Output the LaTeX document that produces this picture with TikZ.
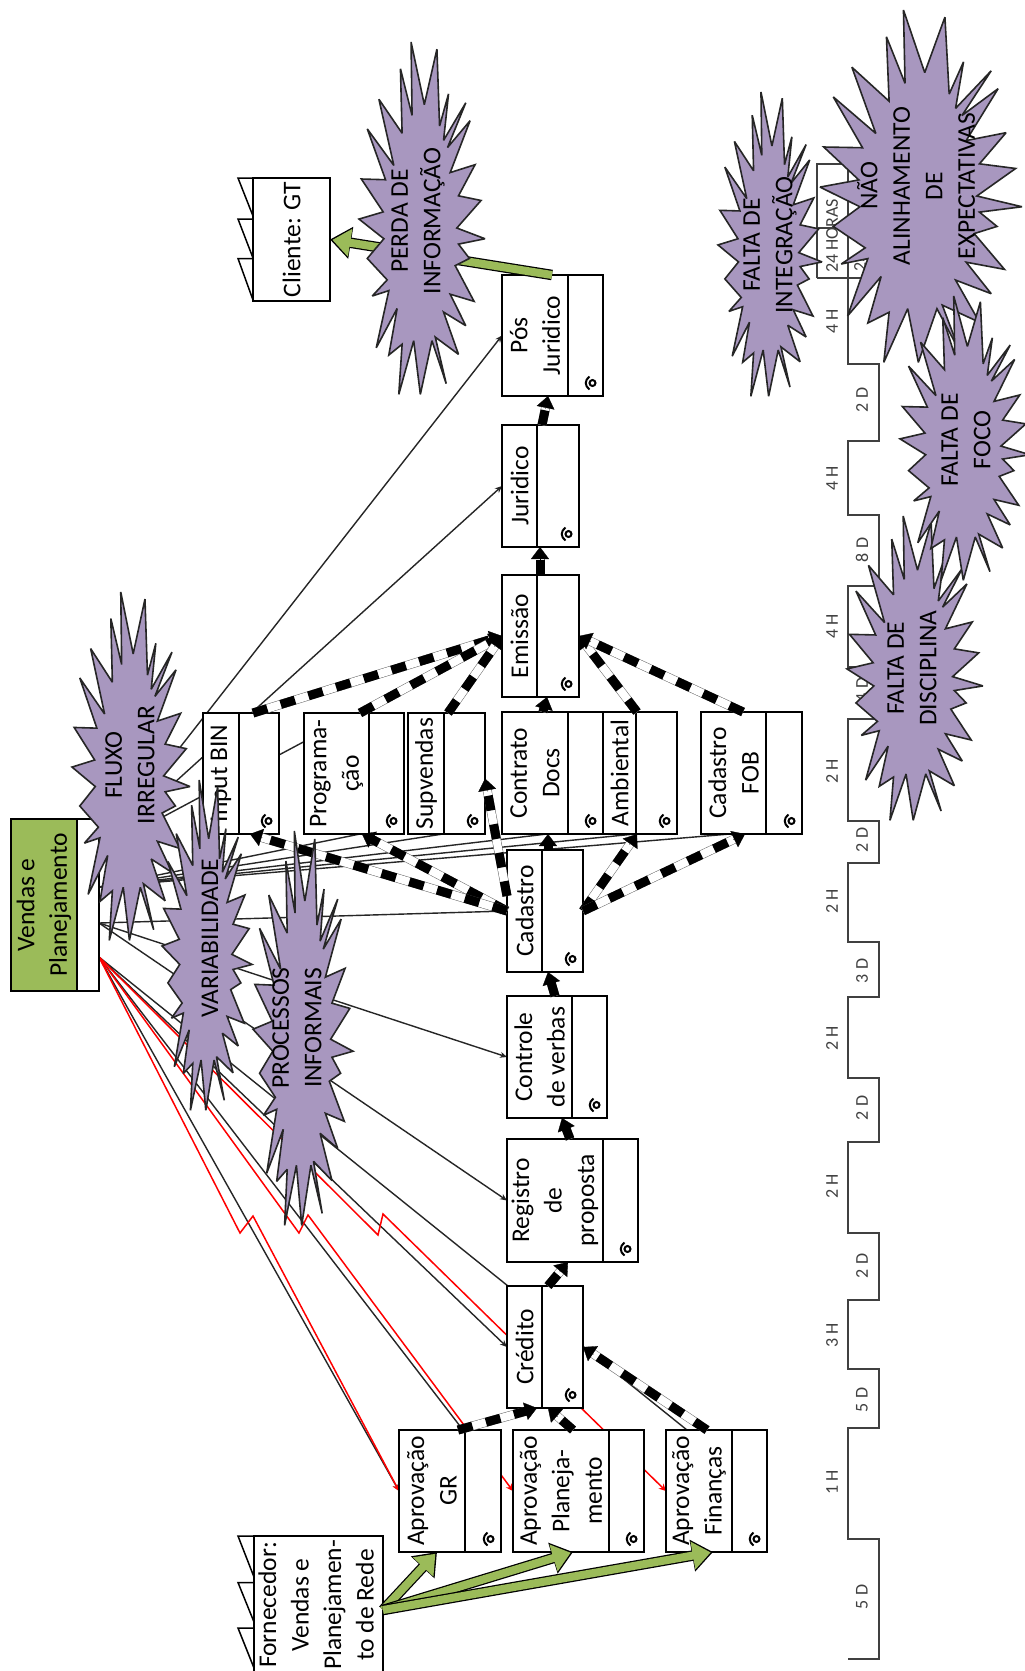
\documentclass[tikz,border=0pt]{standalone}
\usepackage{fontspec}
\setmainfont{Carlito}
\usetikzlibrary{arrows.meta,calc}
\pgfdeclarelayer{back}
\pgfsetlayers{back,main}
\definecolor{vsmgreen}{HTML}{9BBB59}
\definecolor{burstpurple}{HTML}{A897BF}
\definecolor{tlgray}{HTML}{404040}
\tikzset{
  boxst/.style={draw=black,line width=1.5pt,fill=white,inner sep=0pt,outer sep=0pt},
  divline/.style={draw=black,line width=1.5pt},
  boxtext/.style={rotate=90,align=center,inner sep=0pt,font=\fontsize{25.5}{32.5}\selectfont},
  bursttext/.style={rotate=90,align=center,inner sep=0pt,font=\fontsize{25.5}{32.5}\selectfont},
  burstshape/.style={draw=black!85,line width=1.6pt,fill=burstpurple,line join=miter,miter limit=3},
  infoline/.style={draw=black!85,line width=1.4pt},
  infotip/.style={infoline,-{Stealth[length=7pt,width=6pt]}},
  redline/.style={draw=red,line width=1.5pt,-{Stealth[length=7pt,width=7pt]}},
  pushedge/.style={draw=black!60,line width=.5pt,double=white,double distance=8pt},
  pushfill/.style={draw=black,line width=9pt,dash pattern=on 15pt off 14pt},
  pushtip/.style={draw=black,line width=.3pt,-{Triangle[length=12pt,width=18pt]}},
  gout/.style={draw=black,line width=10.5pt,-{Triangle[length=21pt,width=31pt]}},
  gin/.style={draw=vsmgreen,line width=8pt,shorten >=2.4pt,-{Triangle[length=18pt,width=27pt]}},
  tlline/.style={draw=tlgray,line width=1.9pt},
  tllabel/.style={rotate=90,inner sep=0pt,text=tlgray,font=\fontsize{18}{20}\selectfont},
  iconline/.style={draw=black,line width=2pt}
}
\newcommand{\procbox}[7]{%
  \pgfmathsetmacro{\bw}{#4-#2}\pgfmathsetmacro{\bh}{#5-#3}%
  \pgfmathsetmacro{\cx}{(#2+#4)/2}\pgfmathsetmacro{\cy}{(#3+#5)/2}%
  \pgfmathsetmacro{\tx}{(#2+#6)/2}%
  \node[boxst,minimum width=\bw pt,minimum height=\bh pt] (#1) at (\cx,\cy) {};
  \draw[divline] (#6,#3) -- (#6,#5);
  \node[boxtext] (#1t) at (\tx,\cy) {#7};
  \pgfmathsetmacro{\ix}{#4-12}\pgfmathsetmacro{\iy}{#5-13}%
  \draw[iconline] (\ix+1.5,\iy) circle (3);
  \draw[iconline] (\ix-1.5,\iy-6.5) .. controls (\ix-6.5,\iy-3) and (\ix-6.5,\iy+3) .. (\ix-1.5,\iy+6.5);
}
\newcommand{\pa}[2]{%
  \draw[pushedge] #1 -- ($#2!10pt!#1$);
  \draw[pushfill] #1 -- ($#2!10pt!#1$);
  \draw[pushtip] ($#2!13pt!#1$) -- #2;
}
\newcommand{\ga}[2]{\draw[gout] #1 -- #2; \draw[gin] #1 -- #2;}
\newcommand{\burstoutline}{(632,35)--(672,210)--(710,55)--(718,270)--(745,180)--(730,310)--(797,205)--(742,330)--(810,255)--(750,400)--(825,378)--(775,465)--(843,478)--(770,555)--(855,585)--(775,600)--(808,640)--(765,660)--(822,760)--(750,740)--(797,828)--(730,790)--(775,908)--(705,860)--(738,990)--(695,870)--(660,1020)--(640,870)--(595,1020)--(605,880)--(565,910)--(590,780)--(527,890)--(565,730)--(515,745)--(560,700)--(500,640)--(550,585)--(475,530)--(548,510)--(482,418)--(555,420)--(500,278)--(580,380)--(535,195)--(605,290)--(600,110)--(635,240)--cycle}
\newcommand{\burst}[4]{%
  \pgfmathsetmacro{\sx}{#3/190}\pgfmathsetmacro{\sy}{#4/492}%
  \draw[burstshape,shift={(#1,#2)},xscale=\sx,yscale=\sy,shift={(-665,-527)}] \burstoutline;
}
\begin{document}
\begin{tikzpicture}[x=1pt,y=-1pt]
\useasboundingbox (0,0) rectangle (1025,1671);
\begin{pgfonlayer}{back}
\fill[white] (0,0) rectangle (1025,1671);
\end{pgfonlayer}

% sender / receiver
\node[boxst,minimum width=22pt,minimum height=172pt] (vw) at (88,905) {};
\node[boxst,fill=vsmgreen,minimum width=66pt,minimum height=172pt] (vg) at (44,905) {};
\node[boxtext] (vgt) at (44,905) {Vendas e\\Planejamento};
\node[boxst,minimum width=77pt,minimum height=123pt] (cli) at (291.5,239.5) {};
\node[boxtext] (clit) at (291.5,239.5) {Cliente: GT};
\node[boxst,minimum width=129pt,minimum height=154pt] (forn) at (318.5,1613) {};
\node[boxtext] (fornt) at (316,1605) {Fornecedor:\\Vendas e\\Planejamen-\\to de Rede};
\draw[divline] (253,178)--(238,178)--(253,216) (253,219)--(238,219)--(253,258) (253,258.5)--(238,258.5)--(253,300);
\draw[divline] (254,1536)--(238,1536)--(254,1577) (254,1582.5)--(238,1582.5)--(254,1622) (254,1628)--(238,1628)--(254,1668);

% process boxes
\procbox{gr}{399}{1430}{501}{1552}{465}{Aprovação\\GR}
\procbox{pl}{513}{1430}{644}{1552}{609}{Aprovação\\Planeja-\\mento}
\procbox{fin}{666}{1430}{767}{1552}{732}{Aprovação\\Finanças}
\procbox{cred}{507}{1286}{583}{1408}{542}{Crédito}
\procbox{reg}{507}{1139}{638}{1262}{603}{Registro\\de\\proposta}
\procbox{ctrl}{507}{996}{607}{1118}{572}{Controle\\de verbas}
\procbox{cad}{507}{850}{583}{972}{542}{Cadastro}
\procbox{bin}{203}{713}{279}{834}{239}{Input BIN}
\procbox{prog}{304}{713}{404}{834}{369}{Programa-\\ção}
\procbox{sup}{408}{713}{485}{834}{444}{Supvendas}
\procbox{cont}{502}{712}{603}{834}{568}{Contrato\\Docs}
\procbox{amb}{603}{712}{677}{834}{636}{Ambiental}
\procbox{fob}{701}{712}{802}{834}{766}{Cadastro\\FOB}
\procbox{emi}{502}{575}{579}{697}{537}{Emissão}
\procbox{jur}{502}{425}{579}{547}{537}{Juridico}
\procbox{pos}{502}{275}{603}{396}{568}{Pós\\Juridico}

% origins of the information lines
\coordinate (o1) at ([yshift=54]vw.east);
\coordinate (o2) at ([yshift=18]vw.east);
\coordinate (o3) at ([yshift=-18]vw.east);
\coordinate (o4) at ([yshift=-52]vw.east);
\coordinate (r1a) at (240,1233);
\coordinate (r1b) at (253,1216);
\coordinate (r2a) at (299,1233);
\coordinate (r2b) at (308,1215);
\coordinate (r3a) at (378,1235);
\coordinate (r3b) at (383,1214);
\coordinate (f1) at (383,1610);

\begin{pgfonlayer}{back}
\draw[infotip] (o1) -- (pos.west);
\draw[infotip] (o1) -- (jur.west);
\draw[infoline] (o1) -- (emi.west);
\draw[infoline] (o2) -- ([xshift=56]prog.south west);
\draw[infoline] (o2) -- ([xshift=35]sup.south west);
\draw[infoline] (o2) -- ([xshift=45]cont.south west);
\draw[infoline] (o2) -- ([xshift=32]amb.south west);
\draw[infoline] (o2) -- ([xshift=29]fob.south west);
\draw[infotip] (o3) -- (cad.west);
\draw[infotip] (o3) -- (ctrl.west);
\draw[infotip] (o3) -- (reg.west);
\draw[infotip] (o4) -- (cred.west);
\draw[infoline] (o4) -- ([xshift=21]fin.north west);
\draw[infoline] (o4) -- ([xshift=64]gr.north west);
\draw[infotip] (o4) -- (gr.west);
\draw[redline] (o4) -- (r1a) -- (r1b) -- (gr.west);
\draw[redline] (o4) -- (r2a) -- (r2b) -- (pl.west);
\draw[redline] (o4) -- (r3a) -- (r3b) -- (fin.west);
\end{pgfonlayer}

% push arrows
\pa{([xshift=41]fin.north west)}{(cred.east)}
\pa{([xshift=60]pl.north west)}{([xshift=41]cred.south west)}
\pa{([xshift=59]gr.north west)}{([xshift=30]cred.south west)}
\pa{([xshift=41]cred.north west)}{([xshift=61]reg.south west)}
\pa{([xshift=63]reg.north west)}{([xshift=55]ctrl.south west)}
\pa{([xshift=48]ctrl.north west)}{([xshift=41]cad.south west)}
\pa{(cad.east)}{([xshift=34]amb.south west)}
\pa{(cad.east)}{([xshift=44]fob.south west)}
\pa{([xshift=41]cad.north west)}{([xshift=46]cont.south west)}
\pa{([yshift=15]cad.west)}{([yshift=-5]sup.east)}
\pa{(cad.west)}{([xshift=58]prog.south west)}
\pa{(cad.west)}{([xshift=47]bin.south west)}
\pa{([xshift=50]bin.north west)}{(emi.west)}
\pa{([xshift=56]prog.north west)}{(emi.west)}
\pa{([xshift=40]sup.north west)}{(emi.west)}
\pa{([xshift=41]cont.north west)}{([xshift=45]emi.south west)}
\pa{([xshift=34]amb.north west)}{(emi.east)}
\pa{([xshift=42]fob.north west)}{(emi.east)}
\pa{([xshift=38]emi.north west)}{([xshift=38]jur.south west)}
\pa{([xshift=40]jur.north west)}{([xshift=46]pos.south west)}

% green arrows
\ga{(f1)}{([xshift=38]gr.south west)}
\ga{(f1)}{([xshift=60]pl.south west)}
\ga{(f1)}{([xshift=47]fin.south west)}
\ga{([xshift=50]pos.north west)}{(cli.east)}

% timeline
\draw[tlline] (848,1659)--(879,1659)--(879,1539)--(848,1539)--(848,1428)--(879,1428)--(879,1369)--(848,1369)--(848,1300)--(879,1300)--(879,1233)--(848,1233)--(848,1142)--(879,1142)--(879,1078)--(848,1078)--(848,997)--(879,997)--(879,942)--(848,942)--(848,863)--(879,863)--(879,821)--(848,821)--(848,719)--(879,719)--(879,667)--(848,667)--(848,586)--(879,586)--(879,515)--(848,515)--(848,441)--(879,441)--(879,364)--(848,364)--(848,278);
\draw[tlline] (817,278)--(879,278);
\draw[tlline] (817,278)--(817,164)--(879,164);
\draw[tlline] (817,228)--(879,228);
\draw[tlline] (848,278)--(848,164);
\node[tllabel] (t01) at (862,1597) {5 D};
\node[tllabel] (t02) at (832,1482) {1 H};
\node[tllabel] (t03) at (862,1400) {5 D};
\node[tllabel] (t04) at (832,1335) {3 H};
\node[tllabel] (t05) at (862,1266) {2 D};
\node[tllabel] (t06) at (832,1186) {2 H};
\node[tllabel] (t07) at (862,1108) {2 D};
\node[tllabel] (t08) at (832,1038) {2 H};
\node[tllabel] (t09) at (862,971) {3 D};
\node[tllabel] (t10) at (832,901) {2 H};
\node[tllabel] (t11) at (862,840) {2 D};
\node[tllabel] (t12) at (832,771) {2 H};
\node[tllabel] (t13) at (862,690) {4 D};
\node[tllabel] (t14) at (832,626) {4 H};
\node[tllabel] (t15) at (862,550) {8 D};
\node[tllabel] (t16) at (832,478) {4 H};
\node[tllabel] (t17) at (862,400) {2 D};
\node[tllabel] (t18) at (832,321) {4 H};
\node[tllabel] (t19) at (832,236) {24 HORAS};
\node[tllabel] (t20) at (860,262) {23};

% bursts
\burst{131}{766}{59}{174}
\node[bursttext] (b1) at (130,765) {FLUXO\\IRREGULAR};
\burst{207}{945}{45}{165}
\node[bursttext] (b2) at (210,938) {VARIABILIDADE};
\burst{303}{1028}{50}{197}
\node[bursttext] (b3) at (297,1028) {PROCESSOS\\INFORMAIS};
\burst{422}{218}{63}{176}
\node[bursttext] (b4) at (418,221) {PERDA DE\\INFORMAÇÃO};
\burst{770}{244}{52}{152}
\node[bursttext] (b5) at (770,245) {FALTA DE\\INTEGRAÇÃO};
\burst{921}{186}{101}{176}
\node[bursttext] (b6) at (916,186) {NÃO\\ALINHAMENTO\\DE\\EXPECTATIVAS};
\burst{915}{668}{68}{152}
\node[bursttext] (b7) at (912,668) {FALTA DE\\DISCIPLINA};
\burst{965}{438}{65}{142}
\node[bursttext] (b8) at (966,440) {FALTA DE\\FOCO};
\end{tikzpicture}
\end{document}
